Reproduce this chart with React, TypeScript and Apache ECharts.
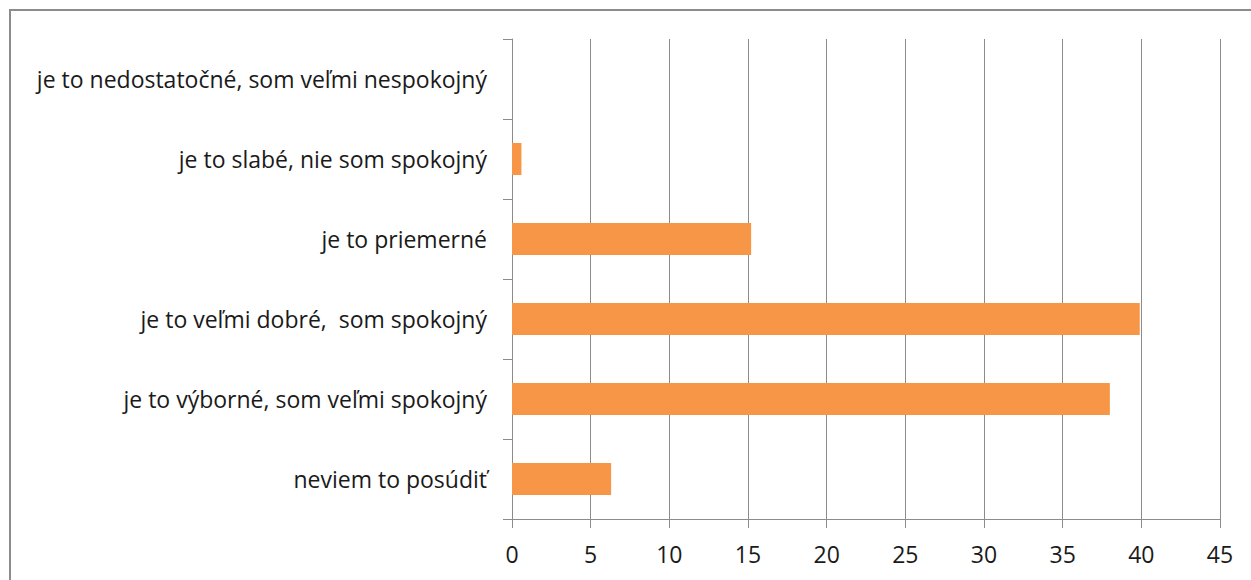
import React, { useEffect, useRef } from "react";
import * as echarts from "echarts";

const categories = [
  "neviem to posúdiť",
  "je to výborné, som veľmi spokojný",
  "je to veľmi dobré,  som spokojný",
  "je to priemerné",
  "je to slabé, nie som spokojný",
  "je to nedostatočné, som veľmi nespokojný",
];
const values = [6.3, 38.0, 39.9, 15.2, 0.6, 0];
const axisMax = 45;
const axisInterval = 5;

export default function App() {
  const ref = useRef<HTMLDivElement>(null);
  useEffect(() => {
    document.body.style.margin = "0";
    const chart = echarts.init(ref.current!, null, { renderer: "svg" });
    const font = "'Open Sans', sans-serif";
    chart.setOption({
      animation: false,
      backgroundColor: "#ffffff",
      graphic: [
        {
          type: "rect",
          shape: { x: 10, y: 10, width: 1300, height: 600 },
          style: { fill: "none", stroke: "#8c8c8c", lineWidth: 2 },
          silent: true,
        },
      ],
      grid: { left: 512, right: 31, top: 39, bottom: 61, containLabel: false },
      xAxis: {
        type: "value",
        min: 0,
        max: axisMax,
        interval: axisInterval,
        axisLine: { show: true, lineStyle: { color: "#8c8c8c", width: 1 } },
        axisTick: { show: true, length: 9, lineStyle: { color: "#8c8c8c" } },
        splitLine: { show: true, lineStyle: { color: "#8c8c8c", width: 1 } },
        axisLabel: { color: "#1a1a1a", fontSize: 23, fontFamily: font, margin: 23 },
      },
      yAxis: {
        type: "category",
        data: categories,
        axisLine: { show: true, lineStyle: { color: "#8c8c8c", width: 1 } },
        axisTick: { show: true, length: 9, lineStyle: { color: "#8c8c8c" } },
        axisLabel: { color: "#1a1a1a", fontSize: 23, fontFamily: font, margin: 25 },
      },
      series: [
        {
          type: "bar",
          data: values,
          barWidth: "40%",
          itemStyle: { color: "#F79646" },
        },
      ],
    });
    return () => chart.dispose();
  }, []);
  return <div ref={ref} style={{ width: 1251, height: 580 }} />;
}
